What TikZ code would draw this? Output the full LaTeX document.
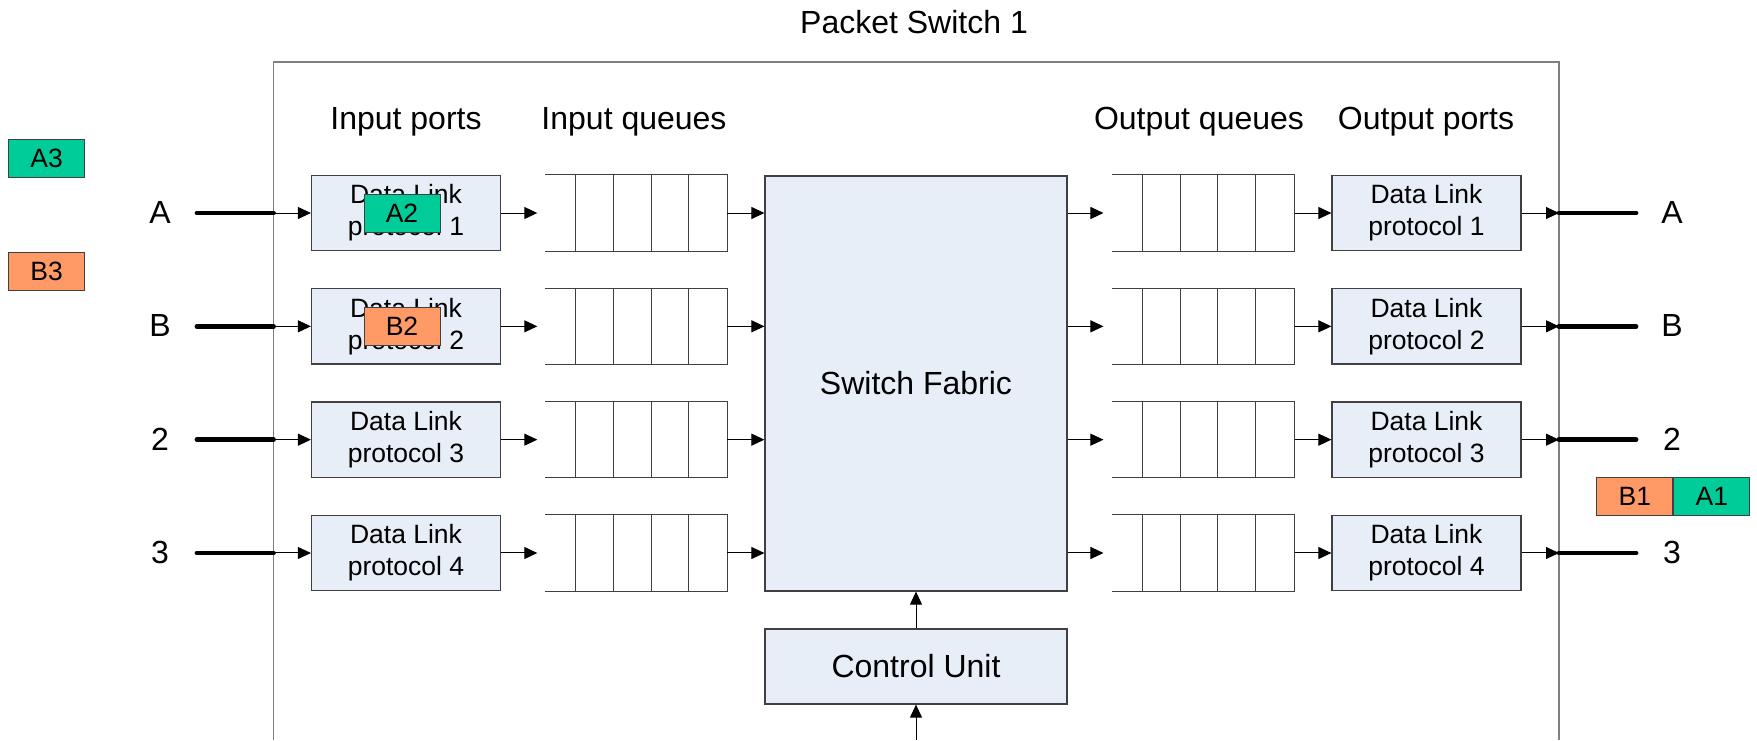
\documentclass[tikz,border=0pt]{standalone}
\usepackage{fontspec}
\setmainfont{Liberation Sans}
\usetikzlibrary{arrows.meta}
\definecolor{boxfill}{HTML}{E8EEF7}
\definecolor{boxline}{HTML}{404040}
\definecolor{framegray}{HTML}{7F7F7F}
\definecolor{pktA}{HTML}{00CC99}
\definecolor{pktB}{HTML}{FF9966}
\tikzset{
  big/.style={font=\fontsize{16}{19}\selectfont,inner sep=0pt},
  port/.style={draw=boxline,fill=boxfill,line width=.6pt,minimum width=94.5pt,minimum height=37.75pt,
    inner sep=0pt,align=center,font=\fontsize{13.25}{15.9}\selectfont},
  fabric/.style={draw=boxline,fill=boxfill,line width=.6pt,minimum width=151pt,minimum height=207.5pt,
    inner sep=0pt,font=\fontsize{16}{19}\selectfont},
  qbox/.style={minimum width=90.65pt,minimum height=37.75pt,inner sep=0pt},
  pkt/.style={draw=boxline,line width=.5pt,minimum width=38pt,minimum height=19pt,inner sep=0pt,
    font=\fontsize{13.25}{15.9}\selectfont},
  arr/.style={->,line width=.5pt},
  link/.style={line width=2.4pt,line cap=round},
  frame/.style={draw=framegray,line width=.6pt},
  qline/.style={draw=boxline,line width=.5pt}
}
\begin{document}
\begin{tikzpicture}[x=0.5pt,y=-0.5pt,>={Triangle[length=6.5pt,width=6pt]}]
\useasboundingbox (0,0) rectangle (1757,740);
\draw[frame](273.5,740)--(273.5,62)--(1559,62)--(1559,740);
\node[big,anchor=base] (title) at (914,33) {Packet Switch 1};
\node[big,anchor=base] (hip) at (406,129) {Input ports};
\node[big,anchor=base] (hiq) at (634,129) {Input queues};
\node[big,anchor=base] (hoq) at (1199,129) {Output queues};
\node[big,anchor=base] (hop) at (1426,129) {Output ports};
\node[fabric] (fab) at (916,383.5) {Switch Fabric};
\node[fabric,minimum height=37.5pt] (ctl) at (916,666.5) {Control Unit};
\coordinate (cin) at (916,740);
\draw[arr](cin)--(ctl);\draw[arr](ctl)--(fab);
\foreach \i/\l in {1/A,2/B,3/2,4/3}{
  \pgfmathsetmacro\yy{213+113.33*(\i-1)}
  % input side
  \node[big,anchor=base] (la\i) at (160,\yy+10.5) {\l};
  \coordinate (ls\i) at (197,\yy);\coordinate (lf\i) at (273.5,\yy);
  \node[port] (pi\i) at (406,\yy) {Data Link\\protocol \i};
  \node[qbox] (qi\i) at (636.35,\yy) {};
  \draw[qline](qi\i.north west)--(qi\i.north east)--(qi\i.south east)--(qi\i.south west);
  \foreach \k in {0,...,3}\draw[qline]([xshift={15.15pt+18.875pt*\k}]qi\i.north west)--([xshift={15.15pt+18.875pt*\k}]qi\i.south west);
  \draw[link](ls\i)--(lf\i);\draw[arr](lf\i)--(pi\i);
  \draw[arr,shorten >=4pt](pi\i)--(qi\i);
  \draw[arr](qi\i.east)--(qi\i.east-|fab.west);
  % output side
  \node[qbox] (qo\i) at (1203.5,\yy) {};
  \draw[qline](qo\i.north west)--(qo\i.north east)--(qo\i.south east)--(qo\i.south west);
  \foreach \k in {0,...,3}\draw[qline]([xshift={15pt+18.875pt*\k}]qo\i.north west)--([xshift={15pt+18.875pt*\k}]qo\i.south west);
  \node[port] (po\i) at (1426.5,\yy) {Data Link\\protocol \i};
  \coordinate (rf\i) at (1559,\yy);\coordinate (re\i) at (1636,\yy);
  \node[big,anchor=base] (ra\i) at (1672,\yy+10.5) {\l};
  \draw[arr,shorten >=4.5pt](qo\i.west-|fab.east)--(qo\i.west);
  \draw[arr](qo\i)--(po\i);
  \draw[arr](po\i)--(rf\i);\draw[link](rf\i)--(re\i);
}
% packets
\node[pkt,fill=pktA] (a3) at (46.7,158.3) {A3};
\node[pkt,fill=pktB] (b3) at (46.7,271.7) {B3};
\node[pkt,fill=pktA] (a2) at (402,213) {A2};
\node[pkt,fill=pktB] (b2) at (402,326.5) {B2};
\node[pkt,fill=pktB] (b1) at (1634.8,496.8) {B1};
\node[pkt,fill=pktA,anchor=west] (a1) at (b1.east) {A1};
\end{tikzpicture}
\end{document}
